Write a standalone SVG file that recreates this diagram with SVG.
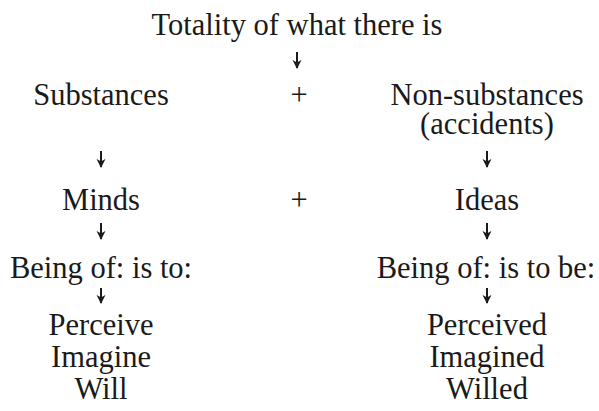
<svg xmlns="http://www.w3.org/2000/svg" width="599" height="411" viewBox="0 0 599 411">
<style>
text{font-family:"Liberation Serif","Times New Roman",serif;font-size:30.5px;fill:#1a1a1a;text-anchor:middle}
.c line{stroke:#1a1a1a;stroke-width:2}
</style>
<defs>
<marker id="ah" viewBox="0 0 10 10" refX="9" refY="5" markerWidth="9" markerHeight="10" markerUnits="userSpaceOnUse" orient="auto">
<path d="M0,0 L10,5 L0,10 L3,5 Z" fill="#1a1a1a"/>
</marker>
</defs>
<rect width="599" height="411" fill="#fff"/>
<g id="totality"><text x="297" y="35">Totality of what there is</text></g>
<g id="substances"><text x="101" y="105">Substances</text></g>
<g id="plus1"><text x="299" y="105">+</text></g>
<g id="nonsubstances"><text x="487" y="105">Non-substances</text><text x="487" y="134">(accidents)</text></g>
<g id="minds"><text x="101" y="210">Minds</text></g>
<g id="plus2"><text x="299" y="210">+</text></g>
<g id="ideas"><text x="487" y="210">Ideas</text></g>
<g id="being-left"><text x="101" y="278">Being of: is to:</text></g>
<g id="being-right"><text x="486" y="278">Being of: is to be:</text></g>
<g id="acts"><text x="101" y="335">Perceive</text><text x="101" y="367">Imagine</text><text x="101" y="399">Will</text></g>
<g id="passives"><text x="487" y="335">Perceived</text><text x="487" y="367">Imagined</text><text x="487" y="399">Willed</text></g>
<g class="c" id="connectors">
<line x1="297" y1="52" x2="297" y2="68" marker-end="url(#ah)"/>
<line x1="101" y1="151" x2="101" y2="167" marker-end="url(#ah)"/>
<line x1="487" y1="151" x2="487" y2="167" marker-end="url(#ah)"/>
<line x1="101" y1="223" x2="101" y2="239" marker-end="url(#ah)"/>
<line x1="487" y1="223" x2="487" y2="239" marker-end="url(#ah)"/>
<line x1="101" y1="288" x2="101" y2="303" marker-end="url(#ah)"/>
<line x1="487" y1="288" x2="487" y2="303" marker-end="url(#ah)"/>
</g>
</svg>
